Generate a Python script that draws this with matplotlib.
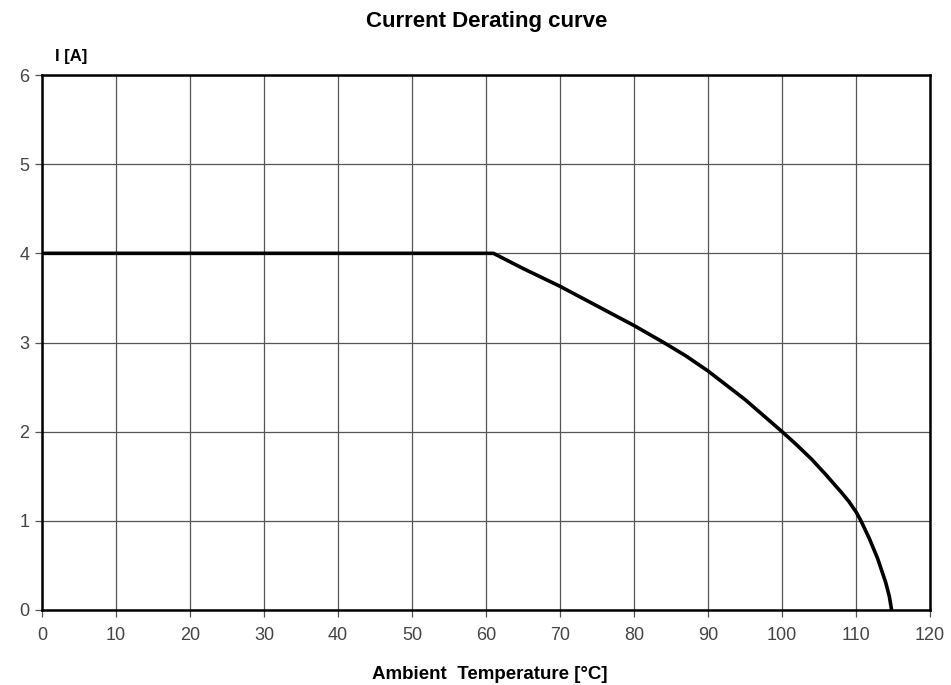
import matplotlib
matplotlib.use("Agg")
import matplotlib.pyplot as plt

# derating curve
temp_c = [0, 61, 65, 70, 75, 80, 84, 87, 90, 95, 100, 102, 104, 106, 108, 109, 110,
          110.6, 111.8, 112.9, 114.0, 114.5, 114.8]
current_a = [4.0, 4.0, 3.83, 3.63, 3.41, 3.19, 3.0, 2.85, 2.68, 2.36, 2.0, 1.85, 1.69, 1.51, 1.32, 1.22, 1.1,
             1.01, 0.80, 0.58, 0.31, 0.15, 0.0]

x_ticks = list(range(0, 121, 10))
y_ticks = list(range(0, 7))

plt.rcParams['font.family'] = ['Liberation Sans', 'DejaVu Sans']

fig = plt.figure(figsize=(9.51, 6.85), dpi=100)
ax = fig.add_axes([0.0442, 0.1095, 0.9338, 0.781])

ax.plot(temp_c, current_a, color='black', linewidth=2.6, solid_capstyle='butt',
        solid_joinstyle='round', zorder=3)

ax.set_xlim(0, 120)
ax.set_ylim(0, 6)
ax.set_xticks(x_ticks)
ax.set_yticks(y_ticks)
ax.grid(True, color='#555555', linewidth=0.9)
ax.set_axisbelow(True)
for s in ax.spines.values():
    s.set_linewidth(1.8)
    s.set_color('black')
ax.tick_params(axis='both', direction='out', length=5, width=0.9, color='#555555',
               labelsize=13, labelcolor='#444444', pad=4)
ax.tick_params(axis='x', pad=7)

fig.text(0.512, 0.968, 'Current Derating curve', ha='center', va='center',
         fontsize=16, fontweight='bold')
fig.text(0.058, 0.918, 'I [A]', ha='left', va='center', fontsize=12, fontweight='bold')
fig.text(0.515, 0.015, 'Ambient  Temperature [°C]', ha='center', va='center',
         fontsize=13.5, fontweight='bold')

fig.savefig('out.png', dpi=100)
